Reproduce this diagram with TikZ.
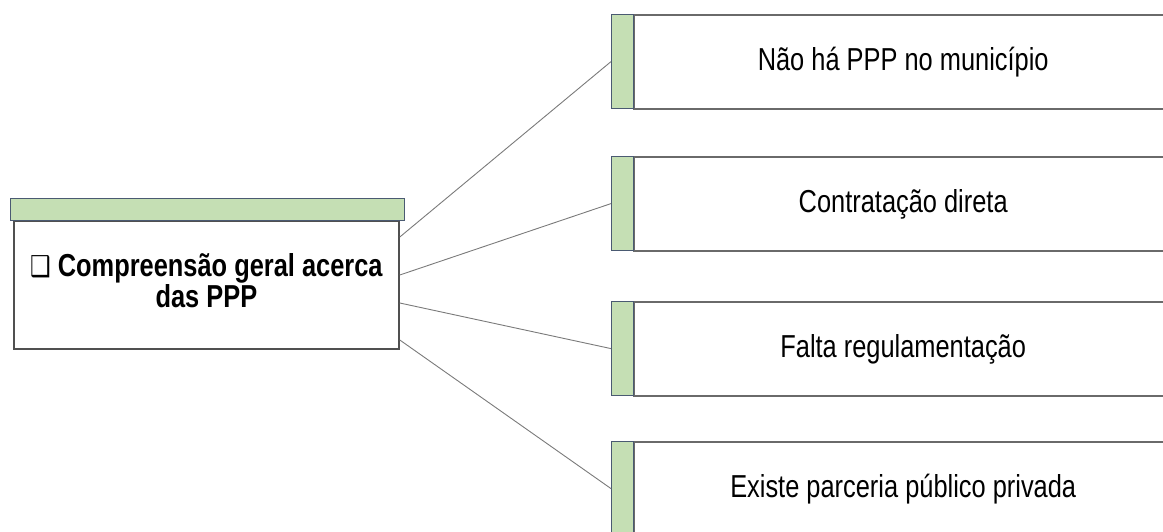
\documentclass[tikz,border=0pt]{standalone}
\usepackage{fontspec}
\setmainfont{Liberation Sans}
\newfontfamily\symfont{DejaVu Sans}
\usetikzlibrary{calc}
\definecolor{hdrgreen}{HTML}{C5DFB4}
\definecolor{hdrborder}{HTML}{4A5A72}
\definecolor{boxgray}{HTML}{6A6A6A}
\definecolor{bodygray}{HTML}{505050}
\definecolor{linegray}{HTML}{7A7A7A}
\newcommand{\vstretch}[1]{\scalebox{1}[1.25]{#1}}
\begin{document}
\begin{tikzpicture}[x=1pt,y=-1pt,
  strip/.style={draw=hdrborder, fill=hdrgreen, line width=1.2pt, minimum width=22pt, minimum height=94pt, inner sep=0pt, anchor=north west},
  item/.style={draw=boxgray, line width=2.4pt, fill=white, minimum width=538pt, minimum height=94pt, inner sep=0pt, anchor=north west, font=\fontsize{25.4}{28}\selectfont},
  conn/.style={draw=linegray, line width=0.9pt}]
\useasboundingbox (0,0) rectangle (1163,532);
\clip (0,0) rectangle (1163,532);

% left box
\node[draw=bodygray, line width=1.8pt, fill=white, minimum width=385pt, minimum height=128pt, inner sep=0pt, anchor=north west, font=\bfseries\fontsize{25.4}{23.5}\selectfont] (body) at (13,220)
  {\vstretch{\begin{tabular}{@{}c@{}}{\symfont\fontsize{23}{23}\selectfont ❑} Compreensão geral acerca\\das PPP\end{tabular}}};
\node[draw=hdrborder, fill=hdrgreen, line width=1.2pt, minimum width=394pt, minimum height=22pt, inner sep=0pt, anchor=north west] (head) at (10,198) {};

% connector start points
\coordinate (c1) at ($(body.north east)+(0,17)$);
\coordinate (c2) at ($(body.north east)+(0,55)$);
\coordinate (c3) at ($(body.north east)+(0,83)$);
\coordinate (c4) at ($(body.north east)+(0,120)$);

% right boxes
\node[item] (b1) at (633,14) {\vstretch{Não há PPP no município}};
\node[item] (b2) at (633,156) {\vstretch{Contratação direta}};
\node[item] (b3) at (633,301) {\vstretch{Falta regulamentação}};
\node[item] (b4) at (633,441) {\vstretch{Existe parceria público privada}};
\node[strip] (s1) at (611,14) {};
\node[strip] (s2) at (611,156) {};
\node[strip] (s3) at (611,301) {};
\node[strip] (s4) at (611,441) {};

% connectors
\draw[conn] (c1) -- (s1.west);
\draw[conn] (c2) -- (s2.west);
\draw[conn] (c3) -- (s3.west);
\draw[conn] (c4) -- (s4.west);
\end{tikzpicture}
\end{document}
